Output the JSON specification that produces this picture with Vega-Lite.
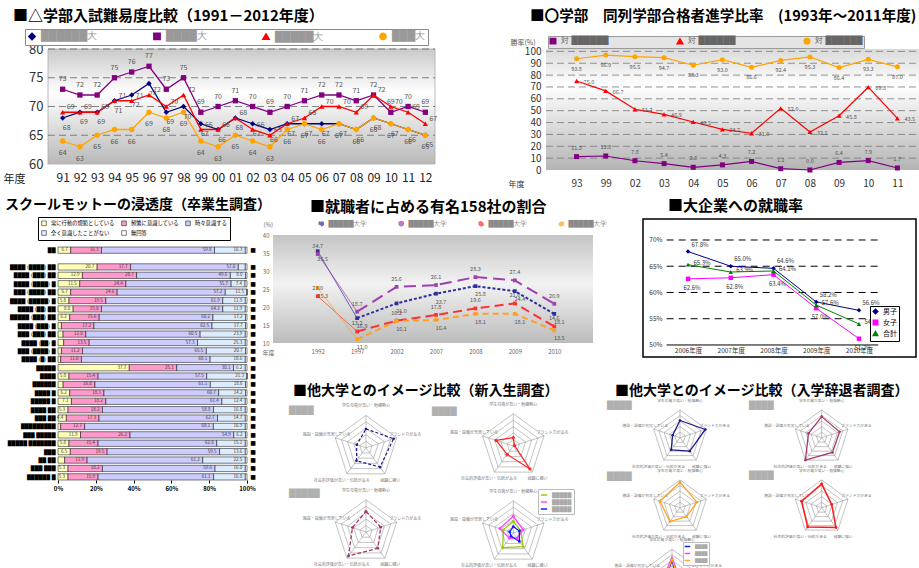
{
"$schema":"https://vega.github.io/schema/vega-lite/v6.json",
"padding":{"left":3,"top":8,"right":0,"bottom":0},
"background":"white",
"config":{"font":"Noto Sans CJK JP","view":{"stroke":null},
"axis":{"labelFont":"Noto Sans CJK JP","titleFont":"Noto Sans CJK JP","labelOverlap":false,"labelFlush":false},
"legend":{"labelFont":"Noto Sans CJK JP"},
"title":{"font":"Noto Sans CJK JP","fontWeight":"bold","color":"#000","anchor":"start","frame":"group"}},
"datasets":{
"d1":[
{"y":"91","u":"n","v":68},{"y":"92","u":"n","v":69},{"y":"93","u":"n","v":69},{"y":"94","u":"n","v":71},{"y":"95","u":"n","v":72},{"y":"96","u":"n","v":74},{"y":"97","u":"n","v":69},{"y":"98","u":"n","v":70},{"y":"99","u":"n","v":67},{"y":"00","u":"n","v":66},{"y":"01","u":"n","v":68},{"y":"02","u":"n","v":67},{"y":"03","u":"n","v":66},{"y":"04","u":"n","v":67},{"y":"05","u":"n","v":67},{"y":"06","u":"n","v":67},{"y":"07","u":"n","v":67},{"y":"08","u":"n","v":66},{"y":"09","u":"n","v":68},{"y":"10","u":"n","v":67},{"y":"11","u":"n","v":66},{"y":"12","u":"n","v":65},
{"y":"91","u":"p","v":73},{"y":"92","u":"p","v":72},{"y":"93","u":"p","v":72},{"y":"94","u":"p","v":75},{"y":"95","u":"p","v":76},{"y":"96","u":"p","v":77},{"y":"97","u":"p","v":73},{"y":"98","u":"p","v":75},{"y":"99","u":"p","v":69},{"y":"00","u":"p","v":70},{"y":"01","u":"p","v":71},{"y":"02","u":"p","v":70},{"y":"03","u":"p","v":69},{"y":"04","u":"p","v":70},{"y":"05","u":"p","v":71},{"y":"06","u":"p","v":72},{"y":"07","u":"p","v":72},{"y":"08","u":"p","v":71},{"y":"09","u":"p","v":72},{"y":"10","u":"p","v":69},{"y":"11","u":"p","v":70},{"y":"12","u":"p","v":69},
{"y":"91","u":"r","v":69},{"y":"92","u":"r","v":69},{"y":"93","u":"r","v":69},{"y":"94","u":"r","v":71},{"y":"95","u":"r","v":71},{"y":"96","u":"r","v":72},{"y":"97","u":"r","v":70},{"y":"98","u":"r","v":72},{"y":"99","u":"r","v":66},{"y":"00","u":"r","v":66},{"y":"01","u":"r","v":68},{"y":"02","u":"r","v":66},{"y":"03","u":"r","v":65},{"y":"04","u":"r","v":67},{"y":"05","u":"r","v":68},{"y":"06","u":"r","v":70},{"y":"07","u":"r","v":70},{"y":"08","u":"r","v":69},{"y":"09","u":"r","v":72},{"y":"10","u":"r","v":70},{"y":"11","u":"r","v":69},{"y":"12","u":"r","v":67},
{"y":"91","u":"o","v":64},{"y":"92","u":"o","v":63},{"y":"93","u":"o","v":65},{"y":"94","u":"o","v":66},{"y":"95","u":"o","v":66},{"y":"96","u":"o","v":69},{"y":"97","u":"o","v":68},{"y":"98","u":"o","v":69},{"y":"99","u":"o","v":64},{"y":"00","u":"o","v":63},{"y":"01","u":"o","v":65},{"y":"02","u":"o","v":64},{"y":"03","u":"o","v":63},{"y":"04","u":"o","v":66},{"y":"05","u":"o","v":67},{"y":"06","u":"o","v":66},{"y":"07","u":"o","v":67},{"y":"08","u":"o","v":66},{"y":"09","u":"o","v":68},{"y":"10","u":"o","v":67},{"y":"11","u":"o","v":66},{"y":"12","u":"o","v":65}],
"d2":[
{"y":"93","u":"a","v":11.3},{"y":"99","u":"a","v":11.8},{"y":"02","u":"a","v":7.8},{"y":"03","u":"a","v":5.4},{"y":"04","u":"a","v":2.3},{"y":"05","u":"a","v":4.3},{"y":"06","u":"a","v":7.2},{"y":"07","u":"a","v":1.1},{"y":"08","u":"a","v":0.0},{"y":"09","u":"a","v":6.4},{"y":"10","u":"a","v":7.9},{"y":"11","u":"a","v":1.7},
{"y":"93","u":"b","v":75.0},{"y":"99","u":"b","v":66.7},{"y":"02","u":"b","v":51.2},{"y":"03","u":"b","v":46.9},{"y":"04","u":"b","v":40.5},{"y":"05","u":"b","v":34.2},{"y":"06","u":"b","v":31.0},{"y":"07","u":"b","v":52.0},{"y":"08","u":"b","v":32.1},{"y":"09","u":"b","v":45.8},{"y":"10","u":"b","v":69.8},{"y":"11","u":"b","v":43.5},
{"y":"93","u":"c","v":93.8},{"y":"99","u":"c","v":96.9},{"y":"02","u":"c","v":95.5},{"y":"03","u":"c","v":94.7},{"y":"04","u":"c","v":88.3},{"y":"05","u":"c","v":93.0},{"y":"06","u":"c","v":86.6},{"y":"07","u":"c","v":92.4},{"y":"08","u":"c","v":95.3},{"y":"09","u":"c","v":86.4},{"y":"10","u":"c","v":93.3},{"y":"11","u":"c","v":87.0}],
"d3":[
{"n":"██","a":6.7,"b":16.3,"c":59.8,"d":16.3,"e":0.9},
{"n":"████ (████) ██","a":20.7,"b":17.7,"c":57.0,"d":3.7,"e":0.9},
{"n":"████ (███) ██","a":12.9,"b":28.7,"c":49.6,"d":8.0,"e":0.8},
{"n":"████ (████) █","a":11.5,"b":24.4,"c":55.7,"d":7.4,"e":1.0},
{"n":"███ (████) ██","a":6.7,"b":24.6,"c":57.2,"d":11.5,"e":0.0},
{"n":"████ (█████) █","a":5.8,"b":19.5,"c":61.9,"d":11.9,"e":0.9},
{"n":"████ (██) ██","a":8.0,"b":15.0,"c":64.2,"d":11.9,"e":0.9},
{"n":"█████ (███) ██","a":6.2,"b":15.6,"c":60.2,"d":17.2,"e":0.8},
{"n":"████ (███) █","a":1.8,"b":17.2,"c":62.5,"d":17.7,"e":0.8},
{"n":"███ (███) ██","a":2.7,"b":12.0,"c":60.5,"d":23.9,"e":0.9},
{"n":"████ (██) █","a":3.0,"b":13.5,"c":57.3,"d":25.3,"e":0.9},
{"n":"███ (████) █","a":1.8,"b":11.2,"c":65.5,"d":20.7,"e":0.8},
{"n":"████ (█) ██","a":1.4,"b":11.0,"c":68.1,"d":18.6,"e":0.9},
{"n":"█████","a":37.7,"b":25.1,"c":30.1,"d":6.2,"e":0.9},
{"n":"████","a":5.8,"b":15.4,"c":57.5,"d":21.3,"e":0.0},
{"n":"██████","a":2.7,"b":16.8,"c":61.1,"d":18.6,"e":0.8},
{"n":"████ █","a":6.2,"b":18.1,"c":60.7,"d":14.2,"e":0.8},
{"n":"█████ █","a":7.1,"b":18.2,"c":61.4,"d":12.4,"e":0.9},
{"n":"████ ██","a":5.3,"b":18.2,"c":58.8,"d":16.8,"e":0.9},
{"n":"███ ██","a":4.4,"b":17.3,"c":62.7,"d":14.7,"e":0.9},
{"n":"█████████","a":1.4,"b":12.7,"c":68.1,"d":16.9,"e":0.9},
{"n":"███ █████","a":11.9,"b":26.2,"c":54.9,"d":6.2,"e":0.8},
{"n":"█████ ███████","a":5.8,"b":15.4,"c":62.8,"d":15.1,"e":0.9},
{"n":"███","a":6.5,"b":19.5,"c":59.5,"d":13.6,"e":0.9},
{"n":"██ ██","a":3.5,"b":11.9,"c":61.2,"d":22.5,"e":0.9},
{"n":"███ ███","a":5.3,"b":18.2,"c":59.6,"d":16.0,"e":0.9},
{"n":"██████ █","a":5.3,"b":15.9,"c":61.1,"d":16.8,"e":0.9}],
"d4":[
{"y":"1992","u":"a","v":35.5},{"y":"1997","u":"a","v":16.9},{"y":"2002","u":"a","v":21.0},{"y":"2007","u":"a","v":23.7},{"y":"2008","u":"a","v":25.8},{"y":"2009","u":"a","v":24.4},{"y":"2010","u":"a","v":18.1},
{"y":"1992","u":"b","v":34.7},{"y":"1997","u":"b","v":18.7},{"y":"2002","u":"b","v":25.6},{"y":"2007","u":"b","v":26.1},{"y":"2008","u":"b","v":28.3},{"y":"2009","u":"b","v":27.4},{"y":"2010","u":"b","v":20.9},
{"y":"1992","u":"c","v":23.0},{"y":"1997","u":"c","v":13.2},{"y":"2002","u":"c","v":16.2},{"y":"2007","u":"c","v":17.8},{"y":"2008","u":"c","v":19.6},{"y":"2009","u":"c","v":21.0},{"y":"2010","u":"c","v":14.6},
{"y":"1992","u":"d","v":25.3},{"y":"1997","u":"d","v":11.0},{"y":"2002","u":"d","v":16.1},{"y":"2007","u":"d","v":16.4},{"y":"2008","u":"d","v":18.1},{"y":"2009","u":"d","v":18.1},{"y":"2010","u":"d","v":13.5}],
"d5":[
{"yr":2006,"g":"男子","v":67.8},{"yr":2007,"g":"男子","v":65.0},{"yr":2008,"g":"男子","v":64.6},{"yr":2009,"g":"男子","v":58.2},{"yr":2010,"g":"男子","v":56.6},
{"yr":2006,"g":"女子","v":62.6},{"yr":2007,"g":"女子","v":62.8},{"yr":2008,"g":"女子","v":63.4},{"yr":2009,"g":"女子","v":57.0},{"yr":2010,"g":"女子","v":51.2},
{"yr":2006,"g":"合計","v":65.3},{"yr":2007,"g":"合計","v":63.9},{"yr":2008,"g":"合計","v":64.1},{"yr":2009,"g":"合計","v":57.6},{"yr":2010,"g":"合計","v":54.0}],
"grid":[
{"r":1,"k":0},{"r":1,"k":1},{"r":1,"k":2},{"r":1,"k":3},{"r":1,"k":4},
{"r":2,"k":0},{"r":2,"k":1},{"r":2,"k":2},{"r":2,"k":3},{"r":2,"k":4},
{"r":3,"k":0},{"r":3,"k":1},{"r":3,"k":2},{"r":3,"k":3},{"r":3,"k":4},
{"r":4,"k":0},{"r":4,"k":1},{"r":4,"k":2},{"r":4,"k":3},{"r":4,"k":4},
{"r":5,"k":0},{"r":5,"k":1},{"r":5,"k":2},{"r":5,"k":3},{"r":5,"k":4}],
"lab":[{"k":0,"t":"学生の質が高い・勉強熱心"},{"k":1,"t":"ブランド力がある"},{"k":2,"t":"就職に強い"},{"k":3,"t":"社会的評価が高い・伝統がある"},{"k":4,"t":"施設・設備が充実している"}],
"rad":[
{"p":"L1","s":"n","k":0,"r":2.9},{"p":"L1","s":"n","k":1,"r":4.5},{"p":"L1","s":"n","k":2,"r":3.7},{"p":"L1","s":"n","k":3,"r":2.5},{"p":"L1","s":"n","k":4,"r":1.5},
{"p":"L2","s":"r","k":0,"r":1.3},{"p":"L2","s":"r","k":1,"r":0.2},{"p":"L2","s":"r","k":2,"r":4.4},{"p":"L2","s":"r","k":3,"r":1.6},{"p":"L2","s":"r","k":4,"r":2.8},
{"p":"L3","s":"m","k":0,"r":3.2},{"p":"L3","s":"m","k":1,"r":2.4},{"p":"L3","s":"m","k":2,"r":3.1},{"p":"L3","s":"m","k":3,"r":4.6},{"p":"L3","s":"m","k":4,"r":2.2},
{"p":"L4","s":"g","k":0,"r":1.8},{"p":"L4","s":"g","k":1,"r":1.2},{"p":"L4","s":"g","k":2,"r":2.6},{"p":"L4","s":"g","k":3,"r":2.8},{"p":"L4","s":"g","k":4,"r":1.6},
{"p":"L4","s":"p","k":0,"r":2.6},{"p":"L4","s":"p","k":1,"r":1.6},{"p":"L4","s":"p","k":2,"r":1.0},{"p":"L4","s":"p","k":3,"r":1.0},{"p":"L4","s":"p","k":4,"r":2.2},
{"p":"L4","s":"b","k":0,"r":1.0},{"p":"L4","s":"b","k":1,"r":1.0},{"p":"L4","s":"b","k":2,"r":1.6},{"p":"L4","s":"b","k":3,"r":0.6},{"p":"L4","s":"b","k":4,"r":0.6},
{"p":"R1","s":"n","k":0,"r":3.1},{"p":"R1","s":"n","k":1,"r":4.8},{"p":"R1","s":"n","k":2,"r":3.0},{"p":"R1","s":"n","k":3,"r":2.7},{"p":"R1","s":"n","k":4,"r":1.4},
{"p":"R2","s":"m","k":0,"r":3.8},{"p":"R2","s":"m","k":1,"r":3.4},{"p":"R2","s":"m","k":2,"r":3.3},{"p":"R2","s":"m","k":3,"r":5.0},{"p":"R2","s":"m","k":4,"r":2.5},
{"p":"R3","s":"o","k":0,"r":4.6},{"p":"R3","s":"o","k":1,"r":3.2},{"p":"R3","s":"o","k":2,"r":2.0},{"p":"R3","s":"o","k":3,"r":3.1},{"p":"R3","s":"o","k":4,"r":3.8},
{"p":"R4","s":"r","k":0,"r":4.3},{"p":"R4","s":"r","k":1,"r":1.9},{"p":"R4","s":"r","k":2,"r":4.4},{"p":"R4","s":"r","k":3,"r":4.3},{"p":"R4","s":"r","k":4,"r":3.8},
{"p":"R5","s":"p","k":0,"r":3.6},{"p":"R5","s":"p","k":1,"r":1.2},{"p":"R5","s":"p","k":2,"r":1.0},{"p":"R5","s":"p","k":3,"r":1.0},{"p":"R5","s":"p","k":4,"r":1.4},
{"p":"R5","s":"b","k":0,"r":3.0},{"p":"R5","s":"b","k":1,"r":0.8},{"p":"R5","s":"b","k":2,"r":0.8},{"p":"R5","s":"b","k":3,"r":0.8},{"p":"R5","s":"b","k":4,"r":1.0},
{"p":"R5","s":"o","k":0,"r":3.3},{"p":"R5","s":"o","k":1,"r":1.0},{"p":"R5","s":"o","k":2,"r":1.2},{"p":"R5","s":"o","k":3,"r":0.9},{"p":"R5","s":"o","k":4,"r":1.1}]
},
"columns":8,"align":"none","bounds":"flush","spacing":0,
"resolve":{"scale":{"color":"independent","shape":"independent","strokeDash":"independent","x":"independent","y":"independent"},"legend":{"color":"independent","shape":"independent","strokeDash":"independent"}},
"concat":[
{"width":225,"height":170,
"title":{"text":"■△学部入試難易度比較（1991－2012年度）","fontSize":15,"dx":-35,"offset":5},
"resolve":{"scale":{"x":"independent"}},
"layer":[
{"encoding":{"x":{"datum":0,"type":"quantitative","scale":{"domain":[0,1],"range":[0,387]},"axis":null},"x2":{"datum":1}},
"layer":[
{"data":{"values":[{}]},"mark":{"type":"rect","stroke":"#aaa","strokeWidth":0.8,"color":{"gradient":"linear","x1":0,"y1":0,"x2":0,"y2":1,"stops":[{"offset":0,"color":"#c9c9c9"},{"offset":0.38,"color":"#ffffff"},{"offset":1,"color":"#b9b9b9"}]}},"encoding":{"y":{"datum":80,"type":"quantitative","scale":{"domain":[60,80],"range":[115,0],"nice":false,"zero":false},"axis":{"values":[60,65,70,75,80],"labelFontSize":13,"labelColor":"#333","labelPadding":5,"labelOverlap":false,"ticks":false,"domain":false,"grid":false,"title":"偏差値","titleFontSize":8,"titleFontWeight":"normal","titleColor":"#888","titleX":-20,"titleY":-3,"titleAlign":"left","titleAngle":0,"titleBaseline":"bottom"}},"y2":{"datum":60}}},
{"data":{"values":[{"g":65},{"g":70},{"g":75},{"g":80}]},"mark":{"type":"rule","color":"#666","strokeDash":[7,4],"strokeWidth":0.8},"encoding":{"y":{"field":"g","type":"quantitative","axis":{"values":[60,65,70,75,80],"labelFontSize":13,"labelColor":"#333","labelPadding":5,"labelOverlap":false,"ticks":false,"domain":false,"grid":false,"title":"偏差値","titleFontSize":8,"titleFontWeight":"normal","titleColor":"#888","titleX":-20,"titleY":-3,"titleAlign":"left","titleAngle":0,"titleBaseline":"bottom"}}}}
]},
{"data":{"name":"d1"},
"encoding":{"x":{"field":"y","type":"ordinal","scale":{"type":"point","domain":["91","92","93","94","95","96","97","98","99","00","01","02","03","04","05","06","07","08","09","10","11","12"],"range":[6,386]},"axis":{"orient":"bottom","offset":-55,"labelFontSize":12,"labelColor":"#222","labelPadding":8,"labelOverlap":false,"ticks":false,"domain":false,"labelAngle":0,"title":"年度","titleFontSize":11,"titleFontWeight":"normal","titleColor":"#222","titleX":-45,"titleY":15,"titleAlign":"left","titleBaseline":"middle","titleAngle":0}},
"y":{"field":"v","type":"quantitative","scale":{"domain":[60,80],"range":[115,0],"nice":false,"zero":false},"axis":{"values":[60,65,70,75,80],"labelFontSize":13,"labelColor":"#333","labelPadding":5,"labelOverlap":false,"ticks":false,"domain":false,"grid":false,"title":"偏差値","titleFontSize":8,"titleFontWeight":"normal","titleColor":"#888","titleX":-20,"titleY":-3,"titleAlign":"left","titleAngle":0,"titleBaseline":"bottom"}}},
"layer":[
{"mark":{"type":"line","strokeWidth":1.3},"encoding":{"color":{"field":"u","type":"nominal","scale":{"domain":["n","p","r","o"],"range":["#000080","#800080","#ff0000","#ffa500"]},"legend":{"orient":"none","legendX":-23,"legendY":-20,"direction":"horizontal","columns":4,"columnPadding":52,"title":null,"strokeColor":"#888","fillColor":"#fff","padding":2,"labelFont":"DejaVu Sans","labelFontSize":10,"labelColor":"#999","symbolSize":40,"labelExpr":"datum.label=='n'?'██████大':datum.label=='p'?'████大':datum.label=='r'?'█████大':'███大'"}}}},
{"mark":{"type":"point","filled":true,"size":28,"opacity":1},"encoding":{"color":{"field":"u","type":"nominal","scale":{"domain":["n","p","r","o"],"range":["#000080","#800080","#ff0000","#ffa500"]},"legend":{"orient":"none","legendX":-23,"legendY":-20,"direction":"horizontal","columns":4,"columnPadding":52,"title":null,"strokeColor":"#888","fillColor":"#fff","padding":2,"labelFont":"DejaVu Sans","labelFontSize":10,"labelColor":"#999","symbolSize":40,"labelExpr":"datum.label=='n'?'██████大':datum.label=='p'?'████大':datum.label=='r'?'█████大':'███大'"}},"shape":{"field":"u","type":"nominal","scale":{"domain":["n","p","r","o"],"range":["diamond","square","triangle-up","circle"]},"legend":{"orient":"none","legendX":-23,"legendY":-20,"direction":"horizontal","columns":4,"columnPadding":52,"title":null,"strokeColor":"#888","fillColor":"#fff","padding":2,"labelFont":"DejaVu Sans","labelFontSize":10,"labelColor":"#999","symbolSize":40,"labelExpr":"datum.label=='n'?'██████大':datum.label=='p'?'████大':datum.label=='r'?'█████大':'███大'"}}}},
{"transform":[{"filter":"datum.u=='p'"}],"mark":{"type":"text","dy":-10,"fontSize":7,"color":"#555"},"encoding":{"text":{"field":"v","type":"quantitative"}}},
{"transform":[{"filter":"datum.u=='n'"}],"mark":{"type":"text","dy":10,"dx":4,"fontSize":7,"color":"#555"},"encoding":{"text":{"field":"v","type":"quantitative"}}},
{"transform":[{"filter":"datum.u=='r'"}],"mark":{"type":"text","dy":-5,"dx":8,"fontSize":7,"color":"#555"},"encoding":{"text":{"field":"v","type":"quantitative"}}},
{"transform":[{"filter":"datum.u=='o'"}],"mark":{"type":"text","dy":12,"fontSize":7,"color":"#555"},"encoding":{"text":{"field":"v","type":"quantitative"}}}
]}]},
{"width":15,"height":170,"data":{"values":[{}]},"mark":{"type":"point","opacity":0,"size":0},"encoding":{}},
{"width":140,"height":170,"data":{"values":[{}]},"mark":{"type":"point","opacity":0,"size":0},"encoding":{}},
{"width":118,"height":170,"data":{"values":[{}]},"mark":{"type":"point","opacity":0,"size":0},"encoding":{}},
{"width":59,"height":170,
"title":{"text":"■〇学部　同列学部合格者進学比率　(1993年～2011年度)","fontSize":14.6,"dx":-16,"offset":12},
"resolve":{"scale":{"x":"independent"}},
"layer":[
{"encoding":{"x":{"datum":0,"type":"quantitative","scale":{"domain":[0,1],"range":[0,373]},"axis":null},"x2":{"datum":1}},
"layer":[
{"data":{"values":[{}]},"mark":{"type":"rect","color":{"gradient":"linear","x1":0,"y1":0,"x2":0,"y2":1,"stops":[{"offset":0,"color":"#dadada"},{"offset":0.3,"color":"#ffffff"},{"offset":1,"color":"#b4b4b4"}]}},"encoding":{"y":{"datum":102,"type":"quantitative","scale":{"domain":[0,102],"range":[121,0],"nice":false,"zero":false},"axis":{"values":[0,10,20,30,40,50,60,70,80,90,100],"labelFontSize":10,"labelColor":"#333","labelPadding":5,"labelOverlap":false,"labelBound":false,"ticks":false,"domain":false,"grid":false,"title":"勝率(%)","titleFontSize":7,"titleFontWeight":"normal","titleColor":"#555","titleX":-36,"titleY":-4,"titleAlign":"left","titleAngle":0,"titleBaseline":"bottom"}},"y2":{"datum":0}}},
{"data":{"values":[{"g":10},{"g":20},{"g":30},{"g":40},{"g":50},{"g":60},{"g":70},{"g":80},{"g":90},{"g":100}]},"mark":{"type":"rule","color":"#777","strokeDash":[7,4],"strokeWidth":0.8},"encoding":{"y":{"field":"g","type":"quantitative","axis":{"values":[0,10,20,30,40,50,60,70,80,90,100],"labelFontSize":10,"labelColor":"#333","labelPadding":5,"labelOverlap":false,"labelBound":false,"ticks":false,"domain":false,"grid":false,"title":"勝率(%)","titleFontSize":7,"titleFontWeight":"normal","titleColor":"#555","titleX":-36,"titleY":-4,"titleAlign":"left","titleAngle":0,"titleBaseline":"bottom"}}}}
]},
{"data":{"name":"d2"},
"encoding":{"x":{"field":"y","type":"ordinal","scale":{"type":"point","domain":["93","99","02","03","04","05","06","07","08","09","10","11"],"range":[16,366]},"axis":{"orient":"bottom","offset":-49,"labelFontSize":10,"labelColor":"#333","labelPadding":8,"labelOverlap":false,"ticks":false,"domain":false,"labelAngle":0,"title":"年度","titleFontSize":8,"titleFontWeight":"normal","titleColor":"#333","titleX":-38,"titleY":14,"titleAlign":"left","titleBaseline":"middle","titleAngle":0}},
"y":{"field":"v","type":"quantitative","scale":{"domain":[0,102],"range":[121,0],"nice":false,"zero":false},"axis":{"values":[0,10,20,30,40,50,60,70,80,90,100],"labelFontSize":10,"labelColor":"#333","labelPadding":5,"labelOverlap":false,"labelBound":false,"ticks":false,"domain":false,"grid":false,"title":"勝率(%)","titleFontSize":7,"titleFontWeight":"normal","titleColor":"#555","titleX":-36,"titleY":-4,"titleAlign":"left","titleAngle":0,"titleBaseline":"bottom"}}},
"layer":[
{"mark":{"type":"line","strokeWidth":1.2},"encoding":{"color":{"field":"u","type":"nominal","scale":{"domain":["a","b","c"],"range":["#800080","#ff0000","#ffa500"]},"legend":{"orient":"none","legendX":2,"legendY":-13,"direction":"horizontal","columns":3,"columnPadding":65,"title":null,"strokeColor":"#999","fillColor":"#e4e4e4","padding":1,"labelFont":"DejaVu Sans","labelFontSize":8,"labelColor":"#666","symbolSize":30,"labelExpr":"'対 ██████'"}}}},
{"mark":{"type":"point","filled":true,"size":25,"opacity":1},"encoding":{"color":{"field":"u","type":"nominal","scale":{"domain":["a","b","c"],"range":["#800080","#ff0000","#ffa500"]},"legend":{"orient":"none","legendX":2,"legendY":-13,"direction":"horizontal","columns":3,"columnPadding":65,"title":null,"strokeColor":"#999","fillColor":"#e4e4e4","padding":1,"labelFont":"DejaVu Sans","labelFontSize":8,"labelColor":"#666","symbolSize":30,"labelExpr":"'対 ██████'"}},"shape":{"field":"u","type":"nominal","scale":{"domain":["a","b","c"],"range":["square","triangle-up","circle"]},"legend":{"orient":"none","legendX":2,"legendY":-13,"direction":"horizontal","columns":3,"columnPadding":65,"title":null,"strokeColor":"#999","fillColor":"#e4e4e4","padding":1,"labelFont":"DejaVu Sans","labelFontSize":8,"labelColor":"#666","symbolSize":30,"labelExpr":"'対 ██████'"}}}},
{"transform":[{"filter":"datum.u=='a'"}],"mark":{"type":"text","dy":-9,"fontSize":5.5,"color":"#555"},"encoding":{"text":{"field":"v","type":"quantitative","format":".1f"}}},
{"transform":[{"filter":"datum.u=='b'"}],"mark":{"type":"text","dx":7,"dy":1,"align":"left","fontSize":5.5,"color":"#555"},"encoding":{"text":{"field":"v","type":"quantitative","format":".1f"}}},
{"transform":[{"filter":"datum.u=='c'"}],"mark":{"type":"text","dy":10,"fontSize":5.5,"color":"#555"},"encoding":{"text":{"field":"v","type":"quantitative","format":".1f"}}}
]}]},
{"width":38,"height":170,"data":{"values":[{}]},"mark":{"type":"point","opacity":0,"size":0},"encoding":{}},
{"width":104,"height":170,"data":{"values":[{}]},"mark":{"type":"point","opacity":0,"size":0},"encoding":{}},
{"width":172,"height":170,"data":{"values":[{}]},"mark":{"type":"point","opacity":0,"size":0},"encoding":{}},

{"width":225,"height":183,
"title":{"text":"スクールモットーの浸透度（卒業生調査）","fontSize":14,"dx":-43,"offset":5},
"data":{"name":"d3"},
"layer":[
{"transform":[{"fold":["a","b","c","d","e"],"as":["k","val"]}],
"mark":{"type":"bar","stroke":"#000","strokeWidth":0.5},
"encoding":{
"y":{"field":"n","type":"nominal","sort":null,"scale":{"domain":["██"," ","████ (████) ██","████ (███) ██","████ (████) █","███ (████) ██","████ (█████) █","████ (██) ██","█████ (███) ██","████ (███) █","███ (███) ██","████ (██) █","███ (████) █","████ (█) ██","█████","████","██████","████ █","█████ █","████ ██","███ ██","█████████","███ █████","█████ ███████","███","██ ██","███ ███","██████ █"],"range":[28,261],"paddingInner":0.25,"paddingOuter":0},"axis":{"labelFont":"DejaVu Sans","labelFontSize":5,"labelColor":"#000","labelOverlap":false,"ticks":false,"domain":false,"labelPadding":-7,"title":null}},
"x":{"field":"val","type":"quantitative","stack":"normalize","scale":{"domain":[-0.053,1],"range":[0,199],"nice":false,"zero":false},"axis":{"offset":78,"values":[0,0.2,0.4,0.6,0.8,1],"format":".0%","labelOverlap":false,"labelBound":false,"labelFlush":false,"labelFontSize":6,"labelFontWeight":"bold","labelColor":"#000","domain":false,"ticks":true,"tickColor":"#000","tickSize":3,"grid":false,"title":null}},
"color":{"field":"k","type":"nominal","scale":{"domain":["a","b","c","d","e"],"range":["#ffffb8","#ff99cc","#ccccff","#dcecff","#ffffff"]},"legend":{"orient":"none","legendX":-10,"legendY":-2,"direction":"horizontal","columns":3,"columnPadding":5,"rowPadding":2,"title":null,"strokeColor":"#000","fillColor":"#fff","padding":3,"labelFontSize":5.3,"labelColor":"#000","symbolType":"square","symbolSize":22,"symbolStrokeColor":"#000","symbolStrokeWidth":0.5,"labelExpr":"datum.label=='a'?'常に行動の規範としている':datum.label=='b'?'頻繁に意識している':datum.label=='c'?'時々意識する':datum.label=='d'?'全く意識したことがない':'無回答'"}},
"order":{"field":"k","type":"nominal"}}},
{"transform":[{"fold":["a","b","c","d","e"],"as":["k","val"]}],
"mark":{"type":"text","align":"right","dx":-3,"fontSize":4.5,"color":"#333"},
"encoding":{
"y":{"field":"n","type":"nominal","sort":null},
"x":{"field":"val","type":"quantitative","stack":"normalize"},
"order":{"field":"k","type":"nominal"},
"text":{"field":"val","type":"quantitative","format":".1f"},
"opacity":{"condition":{"test":"datum.val < 4","value":0},"value":1}}},
{"mark":{"type":"text","text":"■","font":"DejaVu Sans","fontSize":6,"dx":6,"color":"#000"},"encoding":{"y":{"field":"n","type":"nominal"},"x":{"datum":1,"type":"quantitative"}}}
]},
{"width":15,"height":183,
"title":{"text":"■就職者に占める有名158社の割合","fontSize":15,"dx":37,"offset":4},
"resolve":{"scale":{"x":"independent"}},
"layer":[
{"data":{"values":[{}]},"mark":{"type":"rect","color":{"gradient":"linear","x1":0,"y1":0,"x2":0,"y2":1,"stops":[{"offset":0,"color":"#c4c4c4"},{"offset":0.45,"color":"#f2f2f2"},{"offset":1,"color":"#bcbcbc"}]}},"encoding":{"x":{"datum":0,"type":"quantitative","scale":{"domain":[0,1],"range":[0,320]},"axis":null},"x2":{"datum":1},"y":{"datum":40,"type":"quantitative","scale":{"domain":[10,40],"range":[124,16],"nice":false,"zero":false},"axis":{"values":[10,15,20,25,30,35,40],"labelFontSize":6,"labelColor":"#666","labelPadding":4,"labelOverlap":false,"ticks":false,"domain":false,"grid":false,"title":"(%)","titleFontSize":6,"titleFontWeight":"normal","titleColor":"#666","titleX":-10,"titleY":8,"titleAlign":"left","titleAngle":0}},"y2":{"datum":10}}},
{"data":{"name":"d4"},
"encoding":{"x":{"field":"y","type":"ordinal","scale":{"type":"point","domain":["1992","1997","2002","2007","2008","2009","2010"],"range":[25,301]},"axis":{"orient":"bottom","offset":-59,"labelFontSize":6,"labelColor":"#666","labelPadding":5,"labelOverlap":false,"ticks":false,"domain":false,"labelAngle":0,"title":"年度","titleFontSize":6,"titleFontWeight":"normal","titleColor":"#666","titleX":-11,"titleY":9,"titleAlign":"left","titleAngle":0,"titleBaseline":"middle"}},
"y":{"field":"v","type":"quantitative","scale":{"domain":[10,40],"range":[124,16],"nice":false,"zero":false},"axis":{"values":[10,15,20,25,30,35,40],"labelFontSize":6,"labelColor":"#666","labelPadding":4,"labelOverlap":false,"ticks":false,"domain":false,"grid":false,"title":"(%)","titleFontSize":6,"titleFontWeight":"normal","titleColor":"#666","titleX":-10,"titleY":8,"titleAlign":"left","titleAngle":0}}},
"layer":[
{"transform":[{"filter":"datum.y=='1992'||datum.y=='1997'"}],"mark":{"type":"line","strokeWidth":1,"opacity":0.7},"encoding":{"color":{"field":"u","type":"nominal","scale":{"domain":["a","b","c","d"],"range":["#2e2e9e","#a040b0","#ff3030","#ffa020"]},"legend":{"orient":"none","legendX":45,"legendY":1,"direction":"horizontal","columns":4,"columnPadding":28,"title":null,"labelFont":"DejaVu Sans","labelFontSize":6.5,"labelColor":"#8a8a8a","symbolSize":18,"symbolType":"circle","labelExpr":"'█████大学'"}}}},
{"transform":[{"filter":"datum.y!='1992'"}],"mark":{"type":"line","strokeWidth":2},"encoding":{"color":{"field":"u","type":"nominal","scale":{"domain":["a","b","c","d"],"range":["#2e2e9e","#a040b0","#ff3030","#ffa020"]},"legend":{"orient":"none","legendX":45,"legendY":1,"direction":"horizontal","columns":4,"columnPadding":28,"title":null,"labelFont":"DejaVu Sans","labelFontSize":6.5,"labelColor":"#8a8a8a","symbolSize":18,"symbolType":"circle","labelExpr":"'█████大学'"}},"strokeDash":{"field":"u","type":"nominal","scale":{"domain":["a","b","c","d"],"range":[[3,2],[12,6],[9,5],[6,4]]},"legend":null}}},
{"mark":{"type":"point","filled":true,"shape":"square","size":14,"opacity":1},"encoding":{"color":{"field":"u","type":"nominal","scale":{"domain":["a","b","c","d"],"range":["#2e2e9e","#a040b0","#ff3030","#ffa020"]},"legend":{"orient":"none","legendX":45,"legendY":1,"direction":"horizontal","columns":4,"columnPadding":28,"title":null,"labelFont":"DejaVu Sans","labelFontSize":6.5,"labelColor":"#8a8a8a","symbolSize":18,"symbolType":"circle","labelExpr":"'█████大学'"}}}},
{"transform":[{"filter":"datum.u=='a'||datum.u=='d'"}],"mark":{"type":"text","dy":8,"dx":5,"fontSize":5.5,"color":"#555"},"encoding":{"text":{"field":"v","type":"quantitative","format":".1f"}}},
{"transform":[{"filter":"datum.u=='b'||datum.u=='c'"}],"mark":{"type":"text","dy":-8,"fontSize":5.5,"color":"#555"},"encoding":{"text":{"field":"v","type":"quantitative","format":".1f"}}}
]}]},
{"width":140,"height":183,"data":{"values":[{}]},"mark":{"type":"point","opacity":0,"size":0},"encoding":{}},
{"width":118,"height":183,"data":{"values":[{}]},"mark":{"type":"point","opacity":0,"size":0},"encoding":{}},
{"width":59,"height":183,"data":{"values":[{}]},"mark":{"type":"point","opacity":0,"size":0},"encoding":{}},
{"width":38,"height":183,"data":{"values":[{}]},"mark":{"type":"point","opacity":0,"size":0},"encoding":{}},
{"width":104,"height":183,
"title":{"text":"■大企業への就職率","fontSize":15,"dx":25,"offset":4},
"layer":[
{"data":{"values":[{}]},"mark":{"type":"rect","filled":false,"color":"#000","strokeWidth":1.5},"encoding":{"x":{"datum":2004.947,"type":"quantitative","axis":{"values":[2006,2007,2008,2009,2010],"labelExpr":"datum.value+'年度'","labelFontSize":6.5,"labelColor":"#333","labelOverlap":false,"labelBound":false,"offset":-57,"labelPadding":2,"ticks":false,"domain":false,"grid":false,"title":null}},"x2":{"datum":2011.333},"y":{"datum":74,"type":"quantitative","axis":{"values":[50,55,60,65,70],"labelExpr":"datum.value+'%'","labelFontSize":6.5,"labelColor":"#333","labelOverlap":false,"offset":-21,"labelPadding":2,"ticks":false,"domain":false,"grid":false,"title":null}},"y2":{"datum":47.71}}},
{"data":{"values":[{"g":55},{"g":60},{"g":65},{"g":70}]},"mark":{"type":"rule","color":"#000","strokeDash":[7,5],"strokeWidth":1},"encoding":{"y":{"field":"g","type":"quantitative","axis":{"values":[50,55,60,65,70],"labelExpr":"datum.value+'%'","labelFontSize":6.5,"labelColor":"#333","labelOverlap":false,"offset":-21,"labelPadding":2,"ticks":false,"domain":false,"grid":false,"title":null}},"x":{"datum":2005.5,"type":"quantitative","axis":{"values":[2006,2007,2008,2009,2010],"labelExpr":"datum.value+'年度'","labelFontSize":6.5,"labelColor":"#333","labelOverlap":false,"labelBound":false,"offset":-57,"labelPadding":2,"ticks":false,"domain":false,"grid":false,"title":null}},"x2":{"datum":2010.45}}},
{"data":{"values":[{"g":50}]},"mark":{"type":"rule","color":"#000","strokeWidth":1},"encoding":{"y":{"field":"g","type":"quantitative","axis":{"values":[50,55,60,65,70],"labelExpr":"datum.value+'%'","labelFontSize":6.5,"labelColor":"#333","labelOverlap":false,"offset":-21,"labelPadding":2,"ticks":false,"domain":false,"grid":false,"title":null}},"x":{"datum":2005.5,"type":"quantitative","axis":{"values":[2006,2007,2008,2009,2010],"labelExpr":"datum.value+'年度'","labelFontSize":6.5,"labelColor":"#333","labelOverlap":false,"labelBound":false,"offset":-57,"labelPadding":2,"ticks":false,"domain":false,"grid":false,"title":null}},"x2":{"datum":2010.45}}},
{"data":{"name":"d5"},
"encoding":{"x":{"field":"yr","type":"quantitative","scale":{"domain":[2004.947,2011.333],"range":[0,273],"nice":false,"zero":false},"axis":{"values":[2006,2007,2008,2009,2010],"labelExpr":"datum.value+'年度'","labelFontSize":6.5,"labelColor":"#333","labelOverlap":false,"labelBound":false,"offset":-57,"labelPadding":2,"ticks":false,"domain":false,"grid":false,"title":null}},
"y":{"field":"v","type":"quantitative","scale":{"domain":[47.71,74],"range":[138,0],"nice":false,"zero":false},"axis":{"values":[50,55,60,65,70],"labelExpr":"datum.value+'%'","labelFontSize":6.5,"labelColor":"#333","labelOverlap":false,"offset":-21,"labelPadding":2,"ticks":false,"domain":false,"grid":false,"title":null}}},
"layer":[
{"mark":{"type":"line","strokeWidth":1},"encoding":{"color":{"field":"g","type":"nominal","scale":{"domain":["男子","女子","合計"],"range":["#000080","#ff00ff","#008000"]},"legend":{"orient":"none","legendX":227,"legendY":87,"title":null,"strokeColor":"#000","fillColor":"#fff","padding":2,"rowPadding":0,"labelFontSize":7,"labelColor":"#000","symbolSize":20}}}},
{"mark":{"type":"point","filled":true,"size":20,"opacity":1},"encoding":{"color":{"field":"g","type":"nominal","scale":{"domain":["男子","女子","合計"],"range":["#000080","#ff00ff","#008000"]},"legend":{"orient":"none","legendX":227,"legendY":87,"title":null,"strokeColor":"#000","fillColor":"#fff","padding":2,"rowPadding":0,"labelFontSize":7,"labelColor":"#000","symbolSize":20}},"shape":{"field":"g","type":"nominal","scale":{"domain":["男子","女子","合計"],"range":["diamond","square","triangle-up"]},"legend":{"orient":"none","legendX":227,"legendY":87,"title":null,"strokeColor":"#000","fillColor":"#fff","padding":2,"rowPadding":0,"labelFontSize":7,"labelColor":"#000","symbolSize":20}}}},
{"transform":[{"filter":"datum.g=='男子'"},{"calculate":"format(datum.v,'.1f')+'%'","as":"lbl"}],"mark":{"type":"text","dx":12,"dy":-7,"fontSize":6,"color":"#333"},"encoding":{"text":{"field":"lbl","type":"nominal"}}},
{"transform":[{"filter":"datum.g=='合計'"},{"calculate":"format(datum.v,'.1f')+'%'","as":"lbl"}],"mark":{"type":"text","dx":14,"dy":-2,"fontSize":6,"color":"#333"},"encoding":{"text":{"field":"lbl","type":"nominal"}}},
{"transform":[{"filter":"datum.g=='女子'"},{"calculate":"format(datum.v,'.1f')+'%'","as":"lbl"}],"mark":{"type":"text","dx":4,"dy":9,"fontSize":6,"color":"#333"},"encoding":{"text":{"field":"lbl","type":"nominal"}}}
]}]},
{"width":172,"height":183,"data":{"values":[{}]},"mark":{"type":"point","opacity":0,"size":0},"encoding":{}},

{"width":225,"height":69,"data":{"values":[{}]},"mark":{"type":"point","opacity":0,"size":0},"encoding":{}},
{"width":15,"height":69,"data":{"values":[{}]},"mark":{"type":"point","opacity":0,"size":0},"encoding":{},"title":{"text":"■他大学とのイメージ比較（新入生調査）","fontSize":14,"dx":20,"offset":4}},
{"width":140,"height":69,
"title":{"text":"████","font":"DejaVu Sans","fontSize":8,"fontWeight":"normal","color":"#b0b0b0","offset":-13,"dx":1},
"encoding":{"x":{"field":"x","type":"quantitative","scale":{"domain":[-12.07,9.6],"nice":false,"zero":false},"axis":null},"y":{"field":"y","type":"quantitative","scale":{"domain":[-5.77,6.76],"range":[83,2],"nice":false,"zero":false},"axis":null}},
"layer":[
{"data":{"name":"grid"},"transform":[{"calculate":"datum.r*sin(2*PI*datum.k/5)","as":"x"},{"calculate":"datum.r*cos(2*PI*datum.k/5)","as":"y"}],"mark":{"type":"line","interpolate":"linear-closed","color":"#9a9a9a","strokeWidth":0.6},"encoding":{"detail":{"field":"r","type":"nominal"},"order":{"field":"k","type":"quantitative"}}},
{"data":{"name":"grid"},"transform":[{"filter":"datum.r==5"},{"calculate":"datum.r*sin(2*PI*datum.k/5)","as":"x"},{"calculate":"datum.r*cos(2*PI*datum.k/5)","as":"y"}],"mark":{"type":"rule","color":"#9a9a9a","strokeWidth":0.6},"encoding":{"x2":{"datum":0},"y2":{"datum":0}}},
{"data":{"name":"lab"},"transform":[{"calculate":"6.4*sin(2*PI*datum.k/5)","as":"x"},{"calculate":"6.4*cos(2*PI*datum.k/5)","as":"y"}],"mark":{"type":"text","fontSize":4,"color":"#777"},"encoding":{"text":{"field":"t","type":"nominal"}}},
{"data":{"name":"rad"},"transform":[{"filter":"datum.p=='L1'"},{"calculate":"datum.r*sin(2*PI*datum.k/5)","as":"x"},{"calculate":"datum.r*cos(2*PI*datum.k/5)","as":"y"}],"mark":{"type":"line","interpolate":"linear-closed","strokeWidth":1.2,"strokeDash":[3,2],"color":"#1c1c8a"},"encoding":{"order":{"field":"k","type":"quantitative"}}},
{"data":{"name":"rad"},"transform":[{"filter":"datum.p=='L1'"},{"calculate":"datum.r*sin(2*PI*datum.k/5)","as":"x"},{"calculate":"datum.r*cos(2*PI*datum.k/5)","as":"y"}],"mark":{"type":"point","filled":true,"size":7,"opacity":1,"color":"#1c1c8a"},"encoding":{}}
]},
{"width":118,"height":69,
"title":{"text":"████","font":"DejaVu Sans","fontSize":8,"fontWeight":"normal","color":"#b0b0b0","offset":-14,"dx":4},
"encoding":{"x":{"field":"x","type":"quantitative","scale":{"domain":[-13.2,9.55],"range":[0,147],"nice":false,"zero":false},"axis":null},"y":{"field":"y","type":"quantitative","scale":{"domain":[-6.04,6.5],"range":[83,2],"nice":false,"zero":false},"axis":null}},
"layer":[
{"data":{"name":"grid"},"transform":[{"calculate":"datum.r*sin(2*PI*datum.k/5)","as":"x"},{"calculate":"datum.r*cos(2*PI*datum.k/5)","as":"y"}],"mark":{"type":"line","interpolate":"linear-closed","color":"#9a9a9a","strokeWidth":0.6},"encoding":{"detail":{"field":"r","type":"nominal"},"order":{"field":"k","type":"quantitative"}}},
{"data":{"name":"grid"},"transform":[{"filter":"datum.r==5"},{"calculate":"datum.r*sin(2*PI*datum.k/5)","as":"x"},{"calculate":"datum.r*cos(2*PI*datum.k/5)","as":"y"}],"mark":{"type":"rule","color":"#9a9a9a","strokeWidth":0.6},"encoding":{"x2":{"datum":0},"y2":{"datum":0}}},
{"data":{"name":"lab"},"transform":[{"calculate":"6.4*sin(2*PI*datum.k/5)","as":"x"},{"calculate":"6.4*cos(2*PI*datum.k/5)","as":"y"}],"mark":{"type":"text","fontSize":4,"color":"#777"},"encoding":{"text":{"field":"t","type":"nominal"}}},
{"data":{"name":"rad"},"transform":[{"filter":"datum.p=='L2'"},{"calculate":"datum.r*sin(2*PI*datum.k/5)","as":"x"},{"calculate":"datum.r*cos(2*PI*datum.k/5)","as":"y"}],"mark":{"type":"line","interpolate":"linear-closed","strokeWidth":1.2,"color":"#ff2222"},"encoding":{"order":{"field":"k","type":"quantitative"}}},
{"data":{"name":"rad"},"transform":[{"filter":"datum.p=='L2'"},{"calculate":"datum.r*sin(2*PI*datum.k/5)","as":"x"},{"calculate":"datum.r*cos(2*PI*datum.k/5)","as":"y"}],"mark":{"type":"point","filled":true,"size":10,"opacity":1,"color":"#ff2222"},"encoding":{}}
]},
{"width":59,"height":69,"data":{"values":[{}]},"mark":{"type":"point","opacity":0,"size":0},"encoding":{},"title":{"text":"■他大学とのイメージ比較（入学辞退者調査）","fontSize":14,"dx":69,"offset":4}},
{"width":38,"height":69,
"title":{"text":"████","font":"DejaVu Sans","fontSize":8,"fontWeight":"normal","color":"#b0b0b0","offset":-11,"dx":2},
"encoding":{"x":{"field":"x","type":"quantitative","scale":{"domain":[-13.54,10.83],"range":[0,135],"nice":false,"zero":false},"axis":null},"y":{"field":"y","type":"quantitative","scale":{"domain":[-5.29,6.44],"range":[65,0],"nice":false,"zero":false},"axis":null}},
"layer":[
{"data":{"values":[{}]},"mark":{"type":"rect","filled":false,"color":"#a0a0a0","strokeWidth":0.8},"encoding":{"x":{"datum":-13.54},"x2":{"datum":10.83},"y":{"datum":6.44},"y2":{"datum":-5.29}}},
{"data":{"values":[{}]},"mark":{"type":"rule","color":"#444","strokeWidth":2},"encoding":{"x":{"datum":-13.54},"x2":{"datum":10.83},"y":{"datum":-5.29}}},
{"data":{"name":"grid"},"transform":[{"calculate":"datum.r*sin(2*PI*datum.k/5)","as":"x"},{"calculate":"datum.r*cos(2*PI*datum.k/5)","as":"y"}],"mark":{"type":"line","interpolate":"linear-closed","color":"#9a9a9a","strokeWidth":0.6},"encoding":{"detail":{"field":"r","type":"nominal"},"order":{"field":"k","type":"quantitative"}}},
{"data":{"name":"grid"},"transform":[{"filter":"datum.r==5"},{"calculate":"datum.r*sin(2*PI*datum.k/5)","as":"x"},{"calculate":"datum.r*cos(2*PI*datum.k/5)","as":"y"}],"mark":{"type":"rule","color":"#9a9a9a","strokeWidth":0.6},"encoding":{"x2":{"datum":0},"y2":{"datum":0}}},
{"data":{"name":"lab"},"transform":[{"calculate":"6.6*sin(2*PI*datum.k/5)","as":"x"},{"calculate":"6.6*cos(2*PI*datum.k/5)","as":"y"}],"mark":{"type":"text","fontSize":3.8,"color":"#777"},"encoding":{"text":{"field":"t","type":"nominal"}}},
{"data":{"name":"rad"},"transform":[{"filter":"datum.p=='R1'"},{"calculate":"datum.r*sin(2*PI*datum.k/5)","as":"x"},{"calculate":"datum.r*cos(2*PI*datum.k/5)","as":"y"}],"mark":{"type":"line","interpolate":"linear-closed","strokeWidth":1.3,"color":"#1c1c8a"},"encoding":{"order":{"field":"k","type":"quantitative"}}},
{"data":{"name":"rad"},"transform":[{"filter":"datum.p=='R1'"},{"calculate":"datum.r*sin(2*PI*datum.k/5)","as":"x"},{"calculate":"datum.r*cos(2*PI*datum.k/5)","as":"y"}],"mark":{"type":"point","filled":true,"size":7,"opacity":1,"color":"#1c1c8a"},"encoding":{}}
]},
{"width":104,"height":69,"data":{"values":[{}]},"mark":{"type":"point","opacity":0,"size":0},"encoding":{}},
{"width":172,"height":69,
"title":{"text":"████","font":"DejaVu Sans","fontSize":8,"fontWeight":"normal","color":"#b0b0b0","offset":-11,"dx":2},
"encoding":{"x":{"field":"x","type":"quantitative","scale":{"domain":[-13.48,10.35],"range":[0,132],"nice":false,"zero":false},"axis":null},"y":{"field":"y","type":"quantitative","scale":{"domain":[-5.29,6.44],"range":[65,0],"nice":false,"zero":false},"axis":null}},
"layer":[
{"data":{"values":[{}]},"mark":{"type":"rect","filled":false,"color":"#a0a0a0","strokeWidth":0.8},"encoding":{"x":{"datum":-13.48},"x2":{"datum":10.35},"y":{"datum":6.44},"y2":{"datum":-5.29}}},
{"data":{"values":[{}]},"mark":{"type":"rule","color":"#444","strokeWidth":2},"encoding":{"x":{"datum":-13.48},"x2":{"datum":10.35},"y":{"datum":-5.29}}},
{"data":{"name":"grid"},"transform":[{"calculate":"datum.r*sin(2*PI*datum.k/5)","as":"x"},{"calculate":"datum.r*cos(2*PI*datum.k/5)","as":"y"}],"mark":{"type":"line","interpolate":"linear-closed","color":"#9a9a9a","strokeWidth":0.6},"encoding":{"detail":{"field":"r","type":"nominal"},"order":{"field":"k","type":"quantitative"}}},
{"data":{"name":"grid"},"transform":[{"filter":"datum.r==5"},{"calculate":"datum.r*sin(2*PI*datum.k/5)","as":"x"},{"calculate":"datum.r*cos(2*PI*datum.k/5)","as":"y"}],"mark":{"type":"rule","color":"#9a9a9a","strokeWidth":0.6},"encoding":{"x2":{"datum":0},"y2":{"datum":0}}},
{"data":{"name":"lab"},"transform":[{"calculate":"6.6*sin(2*PI*datum.k/5)","as":"x"},{"calculate":"6.6*cos(2*PI*datum.k/5)","as":"y"}],"mark":{"type":"text","fontSize":3.8,"color":"#777"},"encoding":{"text":{"field":"t","type":"nominal"}}},
{"data":{"name":"rad"},"transform":[{"filter":"datum.p=='R2'"},{"calculate":"datum.r*sin(2*PI*datum.k/5)","as":"x"},{"calculate":"datum.r*cos(2*PI*datum.k/5)","as":"y"}],"mark":{"type":"line","interpolate":"linear-closed","strokeWidth":1.3,"color":"#a3386e"},"encoding":{"order":{"field":"k","type":"quantitative"}}},
{"data":{"name":"rad"},"transform":[{"filter":"datum.p=='R2'"},{"calculate":"datum.r*sin(2*PI*datum.k/5)","as":"x"},{"calculate":"datum.r*cos(2*PI*datum.k/5)","as":"y"}],"mark":{"type":"point","filled":true,"size":7,"opacity":1,"color":"#a3386e"},"encoding":{}}
]},

{"width":225,"height":70,"data":{"values":[{}]},"mark":{"type":"point","opacity":0,"size":0},"encoding":{}},
{"width":15,"height":70,"data":{"values":[{}]},"mark":{"type":"point","opacity":0,"size":0},"encoding":{}},
{"width":140,"height":70,
"title":{"text":"█████","font":"DejaVu Sans","fontSize":8,"fontWeight":"normal","color":"#b0b0b0","offset":-27,"dx":1},
"encoding":{"x":{"field":"x","type":"quantitative","scale":{"domain":[-12.07,9.6],"nice":false,"zero":false},"axis":null},"y":{"field":"y","type":"quantitative","scale":{"domain":[-5.42,7.28],"range":[96,14],"nice":false,"zero":false},"axis":null}},
"layer":[
{"data":{"name":"grid"},"transform":[{"calculate":"datum.r*sin(2*PI*datum.k/5)","as":"x"},{"calculate":"datum.r*cos(2*PI*datum.k/5)","as":"y"}],"mark":{"type":"line","interpolate":"linear-closed","color":"#9a9a9a","strokeWidth":0.6},"encoding":{"detail":{"field":"r","type":"nominal"},"order":{"field":"k","type":"quantitative"}}},
{"data":{"name":"grid"},"transform":[{"filter":"datum.r==5"},{"calculate":"datum.r*sin(2*PI*datum.k/5)","as":"x"},{"calculate":"datum.r*cos(2*PI*datum.k/5)","as":"y"}],"mark":{"type":"rule","color":"#9a9a9a","strokeWidth":0.6},"encoding":{"x2":{"datum":0},"y2":{"datum":0}}},
{"data":{"name":"lab"},"transform":[{"calculate":"6.4*sin(2*PI*datum.k/5)","as":"x"},{"calculate":"6.4*cos(2*PI*datum.k/5)","as":"y"}],"mark":{"type":"text","fontSize":4,"color":"#777"},"encoding":{"text":{"field":"t","type":"nominal"}}},
{"data":{"name":"rad"},"transform":[{"filter":"datum.p=='L3'"},{"calculate":"datum.r*sin(2*PI*datum.k/5)","as":"x"},{"calculate":"datum.r*cos(2*PI*datum.k/5)","as":"y"}],"mark":{"type":"line","interpolate":"linear-closed","strokeWidth":1.3,"strokeDash":[4,2],"color":"#a3386e"},"encoding":{"order":{"field":"k","type":"quantitative"}}},
{"data":{"name":"rad"},"transform":[{"filter":"datum.p=='L3'"},{"calculate":"datum.r*sin(2*PI*datum.k/5)","as":"x"},{"calculate":"datum.r*cos(2*PI*datum.k/5)","as":"y"}],"mark":{"type":"point","filled":true,"size":8,"opacity":1,"color":"#a3386e"},"encoding":{}}
]},
{"width":118,"height":70,
"encoding":{"x":{"field":"x","type":"quantitative","scale":{"domain":[-13.2,9.55],"range":[0,147],"nice":false,"zero":false},"axis":null},"y":{"field":"y","type":"quantitative","scale":{"domain":[-5.26,7.43],"range":[96,14],"nice":false,"zero":false},"axis":null}},
"layer":[
{"data":{"name":"grid"},"transform":[{"calculate":"datum.r*sin(2*PI*datum.k/5)","as":"x"},{"calculate":"datum.r*cos(2*PI*datum.k/5)","as":"y"}],"mark":{"type":"line","interpolate":"linear-closed","color":"#9a9a9a","strokeWidth":0.6},"encoding":{"detail":{"field":"r","type":"nominal"},"order":{"field":"k","type":"quantitative"}}},
{"data":{"name":"grid"},"transform":[{"filter":"datum.r==5"},{"calculate":"datum.r*sin(2*PI*datum.k/5)","as":"x"},{"calculate":"datum.r*cos(2*PI*datum.k/5)","as":"y"}],"mark":{"type":"rule","color":"#9a9a9a","strokeWidth":0.6},"encoding":{"x2":{"datum":0},"y2":{"datum":0}}},
{"data":{"name":"lab"},"transform":[{"calculate":"6.4*sin(2*PI*datum.k/5)","as":"x"},{"calculate":"6.4*cos(2*PI*datum.k/5)","as":"y"}],"mark":{"type":"text","fontSize":4,"color":"#777"},"encoding":{"text":{"field":"t","type":"nominal"}}},
{"data":{"name":"rad"},"transform":[{"filter":"datum.p=='L4'"},{"calculate":"datum.r*sin(2*PI*datum.k/5)","as":"x"},{"calculate":"datum.r*cos(2*PI*datum.k/5)","as":"y"}],"mark":{"type":"line","interpolate":"linear-closed","strokeWidth":1.3},"encoding":{"order":{"field":"k","type":"quantitative"},"color":{"field":"s","type":"nominal","scale":{"domain":["g","p","b"],"range":["#99cc00","#ff44ff","#1a1aff"]},"legend":{"orient":"none","legendX":110,"legendY":18,"title":null,"symbolType":"stroke","symbolSize":40,"symbolStrokeWidth":1.5,"labelFont":"DejaVu Sans","labelFontSize":5,"labelColor":"#aaa","padding":2,"rowPadding":0,"fillColor":"#fff","strokeColor":"#bbb","labelExpr":"'█████'"}}}},
{"data":{"name":"rad"},"transform":[{"filter":"datum.p=='L4'"},{"calculate":"datum.r*sin(2*PI*datum.k/5)","as":"x"},{"calculate":"datum.r*cos(2*PI*datum.k/5)","as":"y"}],"mark":{"type":"point","filled":true,"size":8,"opacity":1},"encoding":{"color":{"field":"s","type":"nominal","scale":{"domain":["g","p","b"],"range":["#99cc00","#ff44ff","#1a1aff"]},"legend":{"orient":"none","legendX":110,"legendY":18,"title":null,"symbolType":"stroke","symbolSize":40,"symbolStrokeWidth":1.5,"labelFont":"DejaVu Sans","labelFontSize":5,"labelColor":"#aaa","padding":2,"rowPadding":0,"fillColor":"#fff","strokeColor":"#bbb","labelExpr":"'█████'"}}}}
]},
{"width":59,"height":70,"data":{"values":[{}]},"mark":{"type":"point","opacity":0,"size":0},"encoding":{}},
{"width":38,"height":70,
"title":{"text":"████","font":"DejaVu Sans","fontSize":8,"fontWeight":"normal","color":"#b0b0b0","offset":-12,"dx":2},
"encoding":{"x":{"field":"x","type":"quantitative","scale":{"domain":[-13.54,10.83],"range":[0,135],"nice":false,"zero":false},"axis":null},"y":{"field":"y","type":"quantitative","scale":{"domain":[-5.29,6.62],"range":[66,0],"nice":false,"zero":false},"axis":null}},
"layer":[
{"data":{"values":[{}]},"mark":{"type":"rect","filled":false,"color":"#a0a0a0","strokeWidth":0.8},"encoding":{"x":{"datum":-13.54},"x2":{"datum":10.83},"y":{"datum":6.62},"y2":{"datum":-5.29}}},
{"data":{"values":[{}]},"mark":{"type":"rule","color":"#444","strokeWidth":2},"encoding":{"x":{"datum":-13.54},"x2":{"datum":10.83},"y":{"datum":-5.29}}},
{"data":{"name":"grid"},"transform":[{"calculate":"datum.r*sin(2*PI*datum.k/5)","as":"x"},{"calculate":"datum.r*cos(2*PI*datum.k/5)","as":"y"}],"mark":{"type":"line","interpolate":"linear-closed","color":"#9a9a9a","strokeWidth":0.6},"encoding":{"detail":{"field":"r","type":"nominal"},"order":{"field":"k","type":"quantitative"}}},
{"data":{"name":"grid"},"transform":[{"filter":"datum.r==5"},{"calculate":"datum.r*sin(2*PI*datum.k/5)","as":"x"},{"calculate":"datum.r*cos(2*PI*datum.k/5)","as":"y"}],"mark":{"type":"rule","color":"#9a9a9a","strokeWidth":0.6},"encoding":{"x2":{"datum":0},"y2":{"datum":0}}},
{"data":{"name":"lab"},"transform":[{"calculate":"6.6*sin(2*PI*datum.k/5)","as":"x"},{"calculate":"6.6*cos(2*PI*datum.k/5)","as":"y"}],"mark":{"type":"text","fontSize":3.8,"color":"#777"},"encoding":{"text":{"field":"t","type":"nominal"}}},
{"data":{"name":"rad"},"transform":[{"filter":"datum.p=='R3'"},{"calculate":"datum.r*sin(2*PI*datum.k/5)","as":"x"},{"calculate":"datum.r*cos(2*PI*datum.k/5)","as":"y"}],"mark":{"type":"line","interpolate":"linear-closed","strokeWidth":1.3,"color":"#ffa31a"},"encoding":{"order":{"field":"k","type":"quantitative"}}},
{"data":{"name":"rad"},"transform":[{"filter":"datum.p=='R3'"},{"calculate":"datum.r*sin(2*PI*datum.k/5)","as":"x"},{"calculate":"datum.r*cos(2*PI*datum.k/5)","as":"y"}],"mark":{"type":"point","filled":true,"size":7,"opacity":1,"color":"#ffa31a"},"encoding":{}}
]},
{"width":104,"height":70,"data":{"values":[{}]},"mark":{"type":"point","opacity":0,"size":0},"encoding":{}},
{"width":172,"height":70,
"title":{"text":"████","font":"DejaVu Sans","fontSize":8,"fontWeight":"normal","color":"#b0b0b0","offset":-11,"dx":2},
"encoding":{"x":{"field":"x","type":"quantitative","scale":{"domain":[-13.48,10.35],"range":[0,132],"nice":false,"zero":false},"axis":null},"y":{"field":"y","type":"quantitative","scale":{"domain":[-5.29,6.62],"range":[66,0],"nice":false,"zero":false},"axis":null}},
"layer":[
{"data":{"values":[{}]},"mark":{"type":"rect","filled":false,"color":"#a0a0a0","strokeWidth":0.8},"encoding":{"x":{"datum":-13.48},"x2":{"datum":10.35},"y":{"datum":6.62},"y2":{"datum":-5.29}}},
{"data":{"values":[{}]},"mark":{"type":"rule","color":"#444","strokeWidth":2},"encoding":{"x":{"datum":-13.48},"x2":{"datum":10.35},"y":{"datum":-5.29}}},
{"data":{"name":"grid"},"transform":[{"calculate":"datum.r*sin(2*PI*datum.k/5)","as":"x"},{"calculate":"datum.r*cos(2*PI*datum.k/5)","as":"y"}],"mark":{"type":"line","interpolate":"linear-closed","color":"#9a9a9a","strokeWidth":0.6},"encoding":{"detail":{"field":"r","type":"nominal"},"order":{"field":"k","type":"quantitative"}}},
{"data":{"name":"grid"},"transform":[{"filter":"datum.r==5"},{"calculate":"datum.r*sin(2*PI*datum.k/5)","as":"x"},{"calculate":"datum.r*cos(2*PI*datum.k/5)","as":"y"}],"mark":{"type":"rule","color":"#9a9a9a","strokeWidth":0.6},"encoding":{"x2":{"datum":0},"y2":{"datum":0}}},
{"data":{"name":"lab"},"transform":[{"calculate":"6.6*sin(2*PI*datum.k/5)","as":"x"},{"calculate":"6.6*cos(2*PI*datum.k/5)","as":"y"}],"mark":{"type":"text","fontSize":3.8,"color":"#777"},"encoding":{"text":{"field":"t","type":"nominal"}}},
{"data":{"name":"rad"},"transform":[{"filter":"datum.p=='R4'"},{"calculate":"datum.r*sin(2*PI*datum.k/5)","as":"x"},{"calculate":"datum.r*cos(2*PI*datum.k/5)","as":"y"}],"mark":{"type":"line","interpolate":"linear-closed","strokeWidth":1.5,"color":"#ff1a1a"},"encoding":{"order":{"field":"k","type":"quantitative"}}},
{"data":{"name":"rad"},"transform":[{"filter":"datum.p=='R4'"},{"calculate":"datum.r*sin(2*PI*datum.k/5)","as":"x"},{"calculate":"datum.r*cos(2*PI*datum.k/5)","as":"y"}],"mark":{"type":"point","filled":true,"size":8,"opacity":1,"color":"#ff1a1a"},"encoding":{}}
]},

{"width":225,"height":26,"data":{"values":[{}]},"mark":{"type":"point","opacity":0,"size":0},"encoding":{}},
{"width":15,"height":26,"data":{"values":[{}]},"mark":{"type":"point","opacity":0,"size":0},"encoding":{}},
{"width":140,"height":26,"data":{"values":[{}]},"mark":{"type":"point","opacity":0,"size":0},"encoding":{}},
{"width":118,"height":26,"data":{"values":[{}]},"mark":{"type":"point","opacity":0,"size":0},"encoding":{}},
{"width":59,"height":26,"data":{"values":[{}]},"mark":{"type":"point","opacity":0,"size":0},"encoding":{}},
{"width":38,"height":26,
"encoding":{"x":{"field":"x","type":"quantitative","scale":{"domain":[-12.09,8.3],"range":[0,113],"nice":false,"zero":false},"axis":null},"y":{"field":"y","type":"quantitative","scale":{"domain":[1.8,6.49],"nice":false,"zero":false},"axis":null}},
"layer":[
{"data":{"values":[{}]},"mark":{"type":"rect","filled":false,"color":"#a0a0a0","strokeWidth":0.8},"encoding":{"x":{"datum":-12.09},"x2":{"datum":8.3},"y":{"datum":6.49},"y2":{"datum":1.8}}},
{"data":{"name":"grid"},"transform":[{"calculate":"datum.r*sin(2*PI*datum.k/5)","as":"x"},{"calculate":"datum.r*cos(2*PI*datum.k/5)","as":"y"}],"mark":{"type":"line","interpolate":"linear-closed","color":"#9a9a9a","strokeWidth":0.6},"encoding":{"detail":{"field":"r","type":"nominal"},"order":{"field":"k","type":"quantitative"}}},
{"data":{"name":"grid"},"transform":[{"filter":"datum.r==5"},{"calculate":"datum.r*sin(2*PI*datum.k/5)","as":"x"},{"calculate":"datum.r*cos(2*PI*datum.k/5)","as":"y"}],"mark":{"type":"rule","color":"#9a9a9a","strokeWidth":0.6},"encoding":{"x2":{"datum":0},"y2":{"datum":0}}},
{"data":{"name":"lab"},"transform":[{"calculate":"6.6*sin(2*PI*datum.k/5)","as":"x"},{"calculate":"6.6*cos(2*PI*datum.k/5)","as":"y"}],"mark":{"type":"text","fontSize":3.8,"color":"#777"},"encoding":{"text":{"field":"t","type":"nominal"}}},
{"data":{"name":"rad"},"transform":[{"filter":"datum.p=='R5'"},{"calculate":"datum.r*sin(2*PI*datum.k/5)","as":"x"},{"calculate":"datum.r*cos(2*PI*datum.k/5)","as":"y"}],"mark":{"type":"line","interpolate":"linear-closed","strokeWidth":1.3},"encoding":{"order":{"field":"k","type":"quantitative"},"color":{"field":"s","type":"nominal","scale":{"domain":["b","p","o"],"range":["#1a1aff","#ff44ff","#ffa31a"]},"legend":{"orient":"none","legendX":78,"legendY":1,"title":null,"symbolType":"stroke","symbolSize":30,"symbolStrokeWidth":1.5,"labelFont":"DejaVu Sans","labelFontSize":4,"labelColor":"#aaa","padding":1,"rowPadding":0,"fillColor":"#fff","strokeColor":"#bbb","labelExpr":"'████'"}}}}
]}
]
}
